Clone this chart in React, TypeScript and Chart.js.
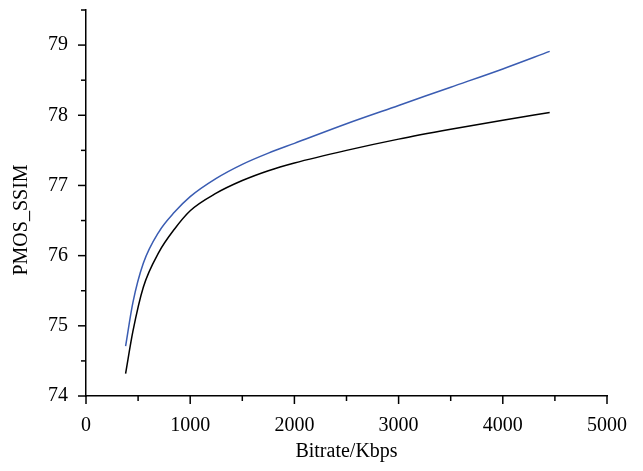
import React, { useEffect, useRef } from "react";
import { Chart, registerables } from "chart.js";

Chart.register(...registerables);

const bitrates = [380, 450, 550, 700, 850, 1000, 1250, 1500, 1750, 2000, 2500, 3000, 3500, 4000, 4450];
const blueSeries = [74.71, 75.33, 75.89, 76.34, 76.62, 76.84, 77.1, 77.3, 77.46, 77.6, 77.88, 78.14, 78.4, 78.66, 78.91];
const blackSeries = [74.32, 74.92, 75.55, 76.05, 76.38, 76.64, 76.89, 77.07, 77.21, 77.32, 77.5, 77.66, 77.8, 77.93, 78.04];
const xLabel = "Bitrate/Kbps";
const yLabel = "PMOS_SSIM";

const FONT = "'Liberation Serif', 'DejaVu Serif', serif";

const tickPlugin = {
  id: "customTicks",
  afterDraw(chart: any) {
    const ctx = chart.ctx;
    ctx.save();
    ctx.strokeStyle = "#000";
    ctx.lineWidth = 1.5;
    const xs = chart.scales.x;
    const ys = chart.scales.y;
    xs.ticks.forEach((t: any) => {
      const p = xs.getPixelForValue(t.value);
      const len = t.value % 1000 === 0 ? 8 : 5;
      ctx.beginPath();
      ctx.moveTo(p, xs.top);
      ctx.lineTo(p, xs.top + len);
      ctx.stroke();
    });
    ys.ticks.forEach((t: any) => {
      const p = ys.getPixelForValue(t.value);
      const len = Math.abs(t.value - Math.round(t.value)) < 1e-6 ? 8 : 5;
      ctx.beginPath();
      ctx.moveTo(ys.right, p);
      ctx.lineTo(ys.right - len, p);
      ctx.stroke();
    });
    // axis titles
    const area = chart.chartArea;
    ctx.fillStyle = "#000";
    ctx.font = `20px ${FONT}`;
    ctx.textAlign = "center";
    ctx.textBaseline = "middle";
    ctx.fillText(xLabel, (area.left + area.right) / 2, 452);
    ctx.translate(22, 220);
    ctx.rotate(-Math.PI / 2);
    ctx.fillText(yLabel, 0, 0);
    ctx.restore();
  },
};

export default function App() {
  const ref = useRef<HTMLCanvasElement | null>(null);
  useEffect(() => {
    if (!ref.current) return;
    const chart = new Chart(ref.current, {
      type: "line",
      data: {
        datasets: [
          {
            data: bitrates.map((x, i) => ({ x, y: blueSeries[i] })),
            borderColor: "#3a5cb2",
            borderWidth: 1.5,
            pointRadius: 0,
            cubicInterpolationMode: "monotone",
            fill: false,
          },
          {
            data: bitrates.map((x, i) => ({ x, y: blackSeries[i] })),
            borderColor: "#000000",
            borderWidth: 1.5,
            pointRadius: 0,
            cubicInterpolationMode: "monotone",
            fill: false,
          },
        ],
      },
      options: {
        animation: false,
        responsive: false,
        devicePixelRatio: 1,
        layout: { padding: { top: 10, right: 36, left: 0, bottom: 0 } },
        plugins: { legend: { display: false }, tooltip: { enabled: false } },
        scales: {
          x: {
            type: "linear",
            min: 0,
            max: 5000,
            border: { color: "#000", width: 1.5 },
            grid: { drawOnChartArea: false, tickLength: 8, tickColor: "rgba(0,0,0,0)" },
            ticks: {
              stepSize: 500,
              color: "#000",
              font: { family: FONT, size: 20 },
              maxRotation: 0,
              autoSkip: false,
              padding: 10,
              callback: (v: any) => (v % 1000 === 0 ? String(v) : ""),
            },
            afterFit: (s: any) => {
              s.height = 75;
              s.paddingLeft = 0;
              s.paddingRight = 0;
            },
          },
          y: {
            type: "linear",
            min: 74,
            max: 79.5,
            border: { color: "#000", width: 1.5 },
            grid: { drawOnChartArea: false, tickLength: 8, tickColor: "rgba(0,0,0,0)" },
            ticks: {
              stepSize: 0.5,
              color: "#000",
              font: { family: FONT, size: 20 },
              autoSkip: false,
              padding: 10,
              callback: (v: any) => (Math.abs(v - Math.round(v)) < 1e-6 ? String(Math.round(v)) : ""),
            },
            afterFit: (s: any) => {
              s.width = 86;
              s.paddingTop = 0;
              s.paddingBottom = 0;
            },
          },
        },
      },
      plugins: [tickPlugin],
    });
    return () => chart.destroy();
  }, []);
  return (
    <div style={{ position: "fixed", left: 0, top: 0, width: 643, height: 471, background: "#fff" }}>
      <canvas ref={ref} width={643} height={471} />
    </div>
  );
}
